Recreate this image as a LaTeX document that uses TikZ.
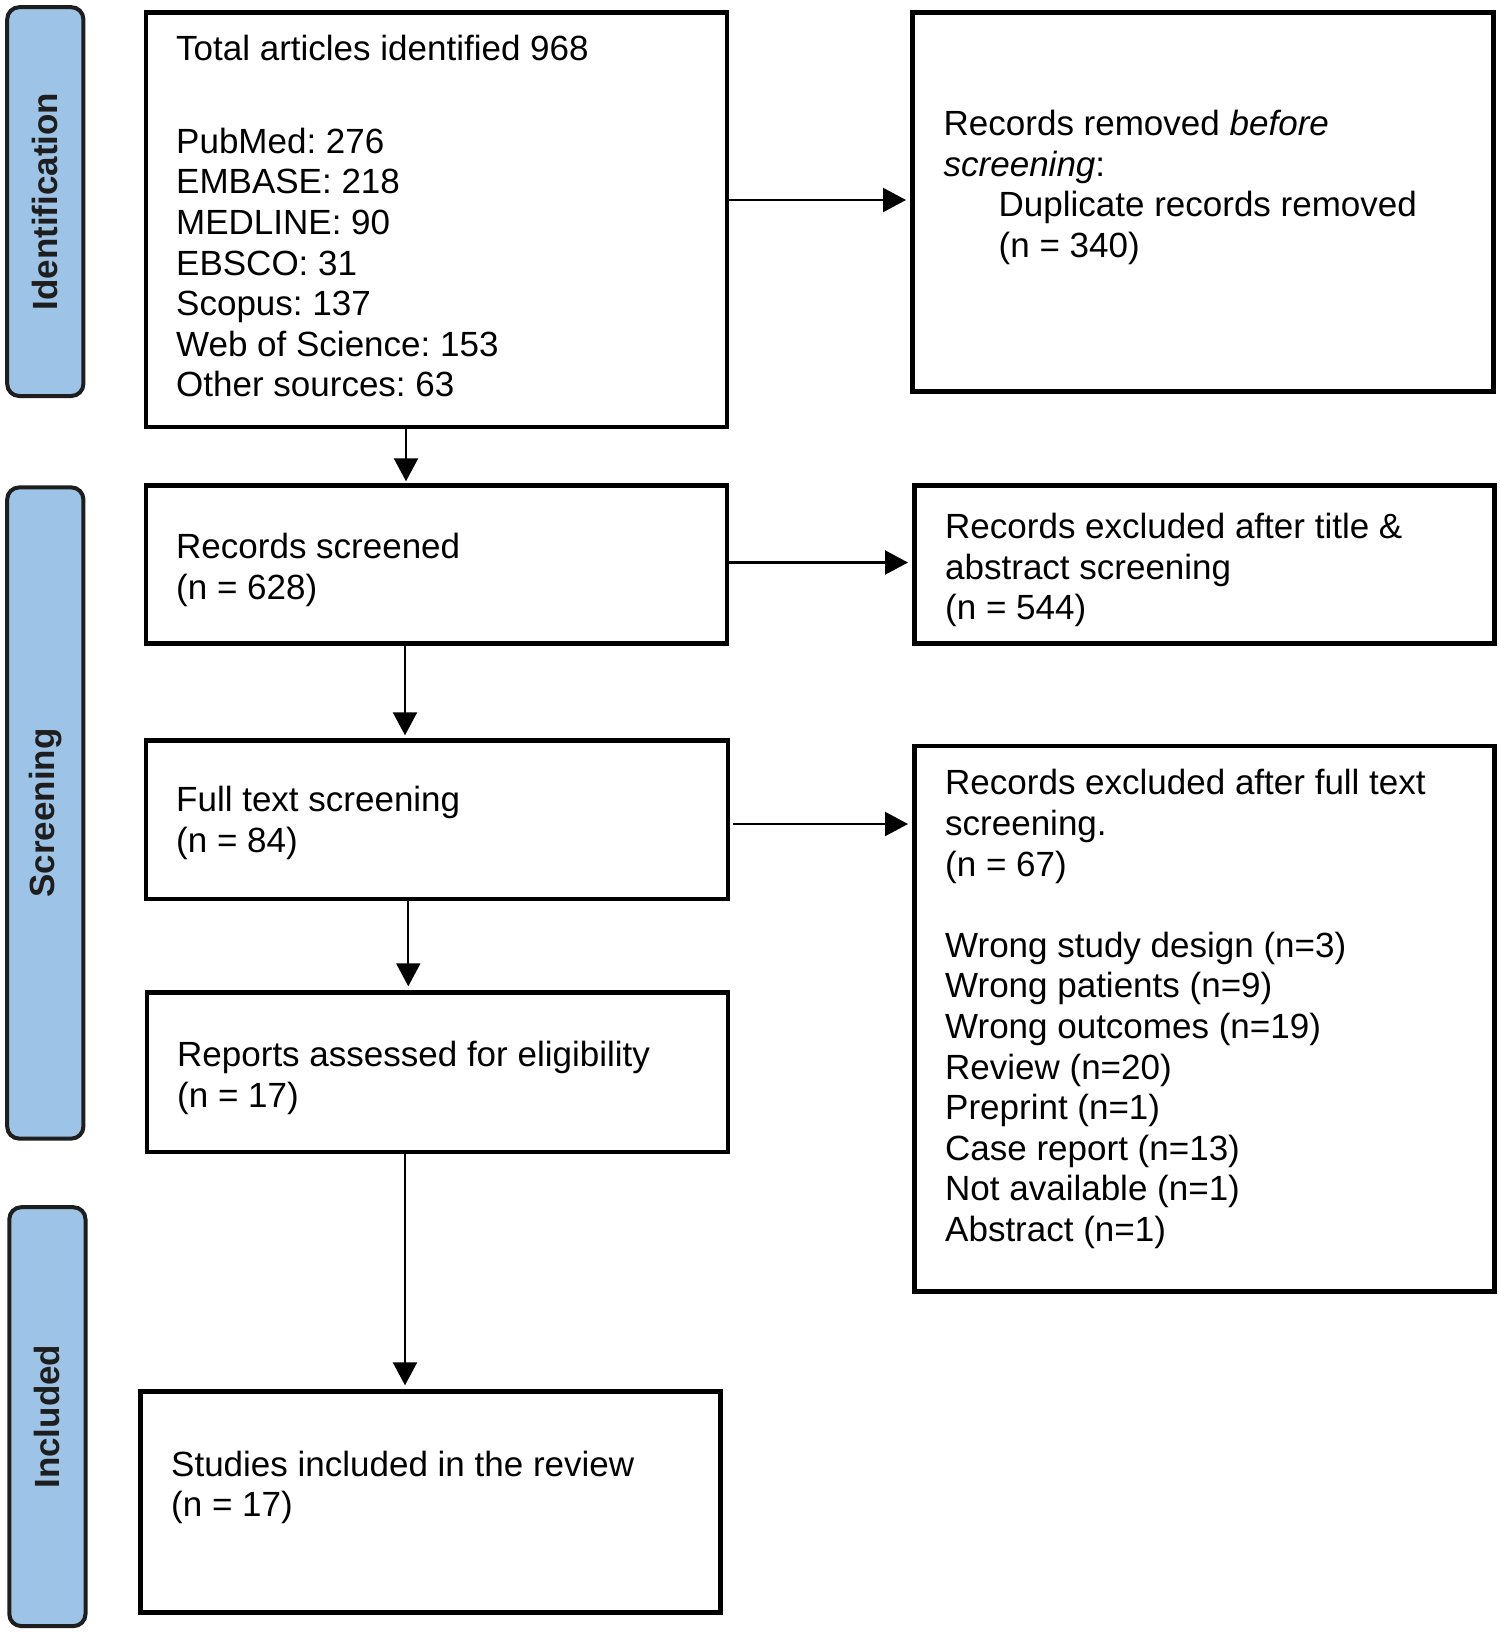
\documentclass[tikz,border=0pt]{standalone}
\usepackage{fontspec}
\setmainfont{Liberation Sans}
\usetikzlibrary{arrows.meta}
\definecolor{tabblue}{HTML}{9DC3E6}
\definecolor{tabline}{HTML}{1E1E1E}
\frenchspacing
\begin{document}
\begin{tikzpicture}[x=1pt,y=-1pt,
  box/.style={draw=black,line width=4.4pt,inner sep=0pt,rectangle},
  tab/.style={draw=tabline,line width=4pt,fill=tabblue,rounded corners=12pt,rotate=90,inner sep=0pt,text=tabline,font=\fontsize{35}{40.6}\selectfont\bfseries},
  txt/.style={anchor=north west,inner sep=0pt,align=left,font=\fontsize{35}{40.6}\selectfont},
  arr/.style={line width=2.2pt,-{Triangle[length=23pt,width=24pt]}}
]
\useasboundingbox (0,0) rectangle (1500,1634);

% phase tabs
\node[tab,minimum width=388.8pt,minimum height=76.2pt] (tid) at (45.3,201.6) {Identification};
\node[tab,minimum width=651.2pt,minimum height=76.2pt] (tscr) at (45.3,813) {Screening};
\node[tab,minimum width=418.9pt,minimum height=76.2pt] (tinc) at (47.4,1416.65) {Included};

% boxes
\node[box,minimum width=581pt,minimum height=414.5pt] (total) at (436.5,219.75) {};
\node[box,minimum width=581pt,minimum height=379pt] (removed) at (1203,202) {};
\node[box,minimum width=581pt,minimum height=158pt] (screened) at (436.5,564.5) {};
\node[box,minimum width=580pt,minimum height=158pt] (excl1) at (1204.5,564.5) {};
\node[box,minimum width=582pt,minimum height=158.5pt] (full) at (437,819.75) {};
\node[box,minimum width=580pt,minimum height=545.5pt] (excl2) at (1204.5,1018.75) {};
\node[box,minimum width=581pt,minimum height=159.5pt] (reports) at (437.5,1072.25) {};
\node[box,minimum width=580pt,minimum height=221pt] (studies) at (430.5,1502) {};

% texts
\node[txt] (totaltxt) at (176,32) {\strut Total articles identified 968\\[52pt]
\strut PubMed: 276\\ \strut EMBASE: 218\\ \strut MEDLINE: 90\\ \strut EBSCO: 31\\
\strut Scopus: 137\\ \strut Web of Science: 153\\ \strut Other sources: 63};
\node[txt] (removedtxt) at (943.5,107) {\strut Records removed \textit{before}\\
\strut\textit{screening}:\\ \strut\hspace*{55pt}Duplicate records removed\\
\strut\hspace*{55pt}(n = 340)};
\node[txt] (screenedtxt) at (176,530) {\strut Records screened\\ \strut (n = 628)};
\node[txt] (excl1txt) at (945,510) {\strut Records excluded after title \&\\
\strut abstract screening\\ \strut (n = 544)};
\node[txt] (fulltxt) at (176,783) {\strut Full text screening\\ \strut (n = 84)};
\node[txt] (excl2txt) at (945,766.3) {\strut Records excluded after full text\\
\strut screening.\\ \strut (n = 67)\\[40.6pt]
\strut Wrong study design (n=3)\\ \strut Wrong patients (n=9)\\
\strut Wrong outcomes (n=19)\\ \strut Review (n=20)\\ \strut Preprint (n=1)\\
\strut Case report (n=13)\\ \strut Not available (n=1)\\ \strut Abstract (n=1)};
\node[txt] (reportstxt) at (177,1038) {\strut Reports assessed for eligibility\\ \strut (n = 17)};
\node[txt] (studiestxt) at (171,1447.5) {\strut Studies included in the review\\ \strut (n = 17)};

% connectors
\draw[arr,shorten >=4.3pt] (total.east |- 0,200) -- (removed.west |- 0,200);
\draw[arr,shorten >=4.3pt] (screened.east |- 0,562.5) -- (excl1.west |- 0,562.5);
\draw[arr,shorten <=3pt,shorten >=4.3pt] (full.east |- 0,824) -- (excl2.west |- 0,824);
\draw[arr,shorten >=2pt] (total.south -| 406,0) -- (screened.north -| 406,0);
\draw[arr,shorten >=3pt] (screened.south -| 405,0) -- (full.north -| 405,0);
\draw[arr,shorten >=4pt] (full.south -| 408.3,0) -- (reports.north -| 408.3,0);
\draw[arr,shorten >=4pt] (reports.south -| 405,0) -- (studies.north -| 405,0);
\end{tikzpicture}
\end{document}
